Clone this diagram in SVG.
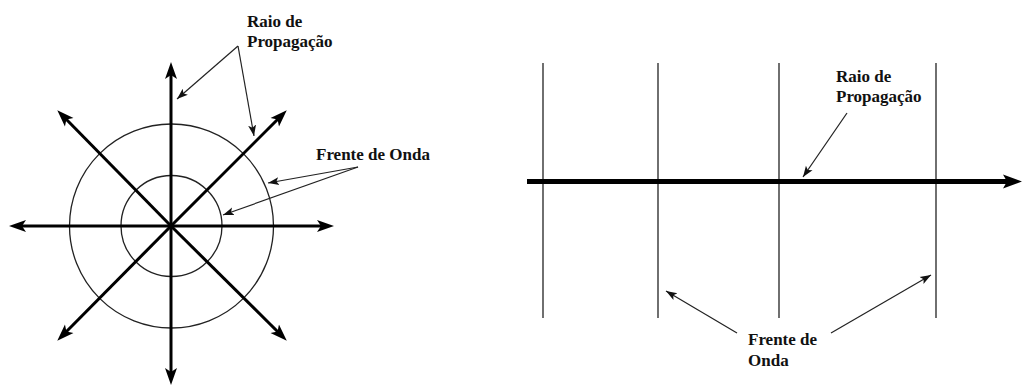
<svg xmlns="http://www.w3.org/2000/svg" width="1022" height="385" viewBox="0 0 1022 385">
<style>
.txt{font-family:"Liberation Serif","Times New Roman",serif;font-weight:bold;font-size:17px;fill:#111}
.ray{stroke:#000;stroke-width:3;fill:none;marker-end:url(#bigHead)}
.thin{stroke:#222;stroke-width:1.3;fill:none}
.leader{stroke:#222;stroke-width:1.2;fill:none;marker-end:url(#smallHead)}
</style>
<defs>
<marker id="bigHead" markerUnits="userSpaceOnUse" viewBox="0 -8 18 16" markerWidth="18" markerHeight="16" refX="6" refY="0" orient="auto">
<path d="M0,-6 L17,0 L0,6 L4,0 Z" fill="#000"/>
</marker>
<marker id="thickHead" markerUnits="userSpaceOnUse" viewBox="0 -9 20 18" markerWidth="20" markerHeight="18" refX="6" refY="0" orient="auto">
<path d="M0,-7 L19,0 L0,7 L4,0 Z" fill="#000"/>
</marker>
<marker id="smallHead" markerUnits="userSpaceOnUse" viewBox="0 -5 12 10" markerWidth="12" markerHeight="10" refX="11" refY="0" orient="auto">
<path d="M0,-4 L11,0 L0,4 L2.5,0 Z" fill="#111"/>
</marker>
</defs>

<g id="spherical-wave">
<circle class="thin" cx="171.5" cy="226" r="102"/>
<circle class="thin" cx="171.5" cy="226" r="50.5"/>
<line class="ray" x1="171" y1="226" x2="171" y2="73"/>
<line class="ray" x1="171" y1="226" x2="171" y2="374"/>
<line class="ray" x1="171" y1="226" x2="20" y2="226"/>
<line class="ray" x1="171" y1="226" x2="323" y2="226"/>
<line class="ray" x1="171" y1="226" x2="65" y2="118"/>
<line class="ray" x1="171" y1="226" x2="279" y2="118"/>
<line class="ray" x1="171" y1="226" x2="65" y2="333"/>
<line class="ray" x1="171" y1="226" x2="279" y2="333"/>
</g>

<g id="label-raio-left">
<text class="txt" x="247" y="27">Raio de</text>
<text class="txt" x="247" y="47">Propagação</text>
</g>
<g id="label-frente-left">
<text class="txt" x="316" y="160">Frente de Onda</text>
</g>

<g id="plane-wave">
<line class="thin" x1="543" y1="63" x2="543" y2="318"/>
<line class="thin" x1="658" y1="63" x2="658" y2="318"/>
<line class="thin" x1="779" y1="63" x2="779" y2="318"/>
<line class="thin" x1="936" y1="63" x2="936" y2="318"/>
<line x1="527" y1="181.5" x2="1009" y2="181.5" stroke="#000" stroke-width="5" marker-end="url(#thickHead)"/>
</g>

<g id="label-raio-right">
<text class="txt" x="836" y="82">Raio de</text>
<text class="txt" x="836" y="102">Propagação</text>
</g>
<g id="label-frente-right">
<text class="txt" x="748" y="345">Frente de</text>
<text class="txt" x="748" y="366">Onda</text>
</g>

<g id="connectors">
<line class="leader" x1="238" y1="46" x2="177" y2="99"/>
<line class="leader" x1="238" y1="46" x2="254" y2="136"/>
<line class="leader" x1="358" y1="167" x2="268" y2="183"/>
<line class="leader" x1="358" y1="167" x2="223" y2="215"/>
<line class="leader" x1="847" y1="113" x2="803" y2="177"/>
<line class="leader" x1="737" y1="333" x2="666" y2="291"/>
<line class="leader" x1="831" y1="333" x2="931" y2="275"/>
</g>
</svg>
